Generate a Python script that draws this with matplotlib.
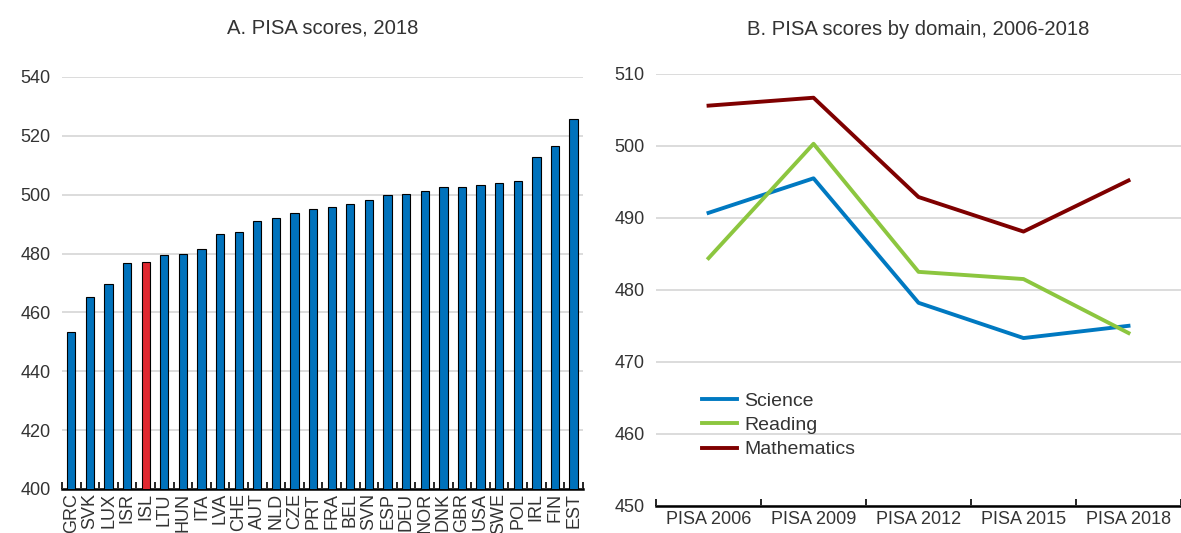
import numpy as np
import matplotlib.pyplot as plt

plt.rcParams['font.family'] = ['Liberation Sans', 'DejaVu Sans']
txtcol = '#333333'

# Panel A data
countries = ['GRC', 'SVK', 'LUX', 'ISR', 'ISL', 'LTU', 'HUN', 'ITA', 'LVA', 'CHE',
             'AUT', 'NLD', 'CZE', 'PRT', 'FRA', 'BEL', 'SVN', 'ESP', 'DEU', 'NOR',
             'DNK', 'GBR', 'USA', 'SWE', 'POL', 'IRL', 'FIN', 'EST']
scores = [453.4, 465.3, 469.5, 476.9, 477.0, 479.4, 479.8, 481.4, 486.8, 487.4,
          491.1, 492.0, 493.7, 495.3, 495.7, 497.0, 498.2, 500.0, 500.4, 501.2,
          502.5, 502.5, 503.4, 503.8, 504.7, 512.9, 516.4, 525.6]

# Panel B data
waves = ['PISA 2006', 'PISA 2009', 'PISA 2012', 'PISA 2015', 'PISA 2018']
science = [490.7, 495.5, 478.2, 473.3, 475.0]
reading = [484.4, 500.3, 482.5, 481.5, 474.0]
maths = [505.6, 506.7, 492.9, 488.1, 495.2]

fig = plt.figure(figsize=(11.81, 5.33), dpi=100)
ax1 = fig.add_axes([0.0525, 0.0826, 0.441, 0.773])
ax2 = fig.add_axes([0.5555, 0.0512, 0.4445, 0.81])

# ---- A
x = np.arange(len(countries))
cols = ['#E0282F' if c == 'ISL' else '#0072BC' for c in countries]
ax1.bar(x, scores, width=0.45, color=cols, edgecolor='black', linewidth=0.8, zorder=3)
ax1.set_ylim(400, 540)
ax1.set_xlim(-0.5, len(countries) - 0.5)
ax1.set_yticks(range(400, 541, 20))
ax1.set_xticks(x)
ax1.set_xticklabels(countries, rotation=90, fontsize=13, color=txtcol)
ax1.set_xticks(np.arange(-0.5, len(countries), 1), minor=True)
ax1.tick_params(axis='x', which='major', length=0, pad=3)
ax1.tick_params(axis='x', which='minor', direction='in', length=5, width=1.2)
ax1.set_title('A. PISA scores, 2018', fontsize=14.6, color=txtcol, pad=31)

# ---- B
xb = np.arange(len(waves))
ax2.plot(xb, science, color='#0079C1', lw=2.8, label='Science', zorder=3)
ax2.plot(xb, reading, color='#8CC63F', lw=2.8, label='Reading', zorder=3)
ax2.plot(xb, maths, color='#7F0000', lw=2.8, label='Mathematics', zorder=3)
ax2.set_ylim(450, 510)
ax2.set_xlim(-0.5, len(waves) - 0.5)
ax2.set_yticks(range(450, 511, 10))
ax2.set_xticks(xb)
ax2.set_xticklabels(waves, fontsize=13, color=txtcol)
ax2.set_xticks(np.arange(-0.5, len(waves), 1), minor=True)
ax2.tick_params(axis='x', which='major', length=0, pad=4)
ax2.tick_params(axis='x', which='minor', direction='in', length=5, width=1.2)
ax2.set_title('B. PISA scores by domain, 2006-2018', fontsize=14.6, color=txtcol, pad=28)
leg = ax2.legend(loc='lower left', bbox_to_anchor=(0.055, 0.069), frameon=False,
                 fontsize=14, handlelength=1.8, handletextpad=0.35, labelspacing=0.34)
for t in leg.get_texts():
    t.set_color(txtcol)

for ax in (ax1, ax2):
    ax.grid(axis='y', color='#d9d9d9', lw=1.3, zorder=0)
    ax.set_axisbelow(True)
    for s in ('left', 'right', 'top'):
        ax.spines[s].set_visible(False)
    ax.spines['bottom'].set_linewidth(1.8)
    ax.tick_params(axis='y', length=0, labelsize=13, labelcolor=txtcol, pad=8)

fig.savefig('out.png', dpi=100)
